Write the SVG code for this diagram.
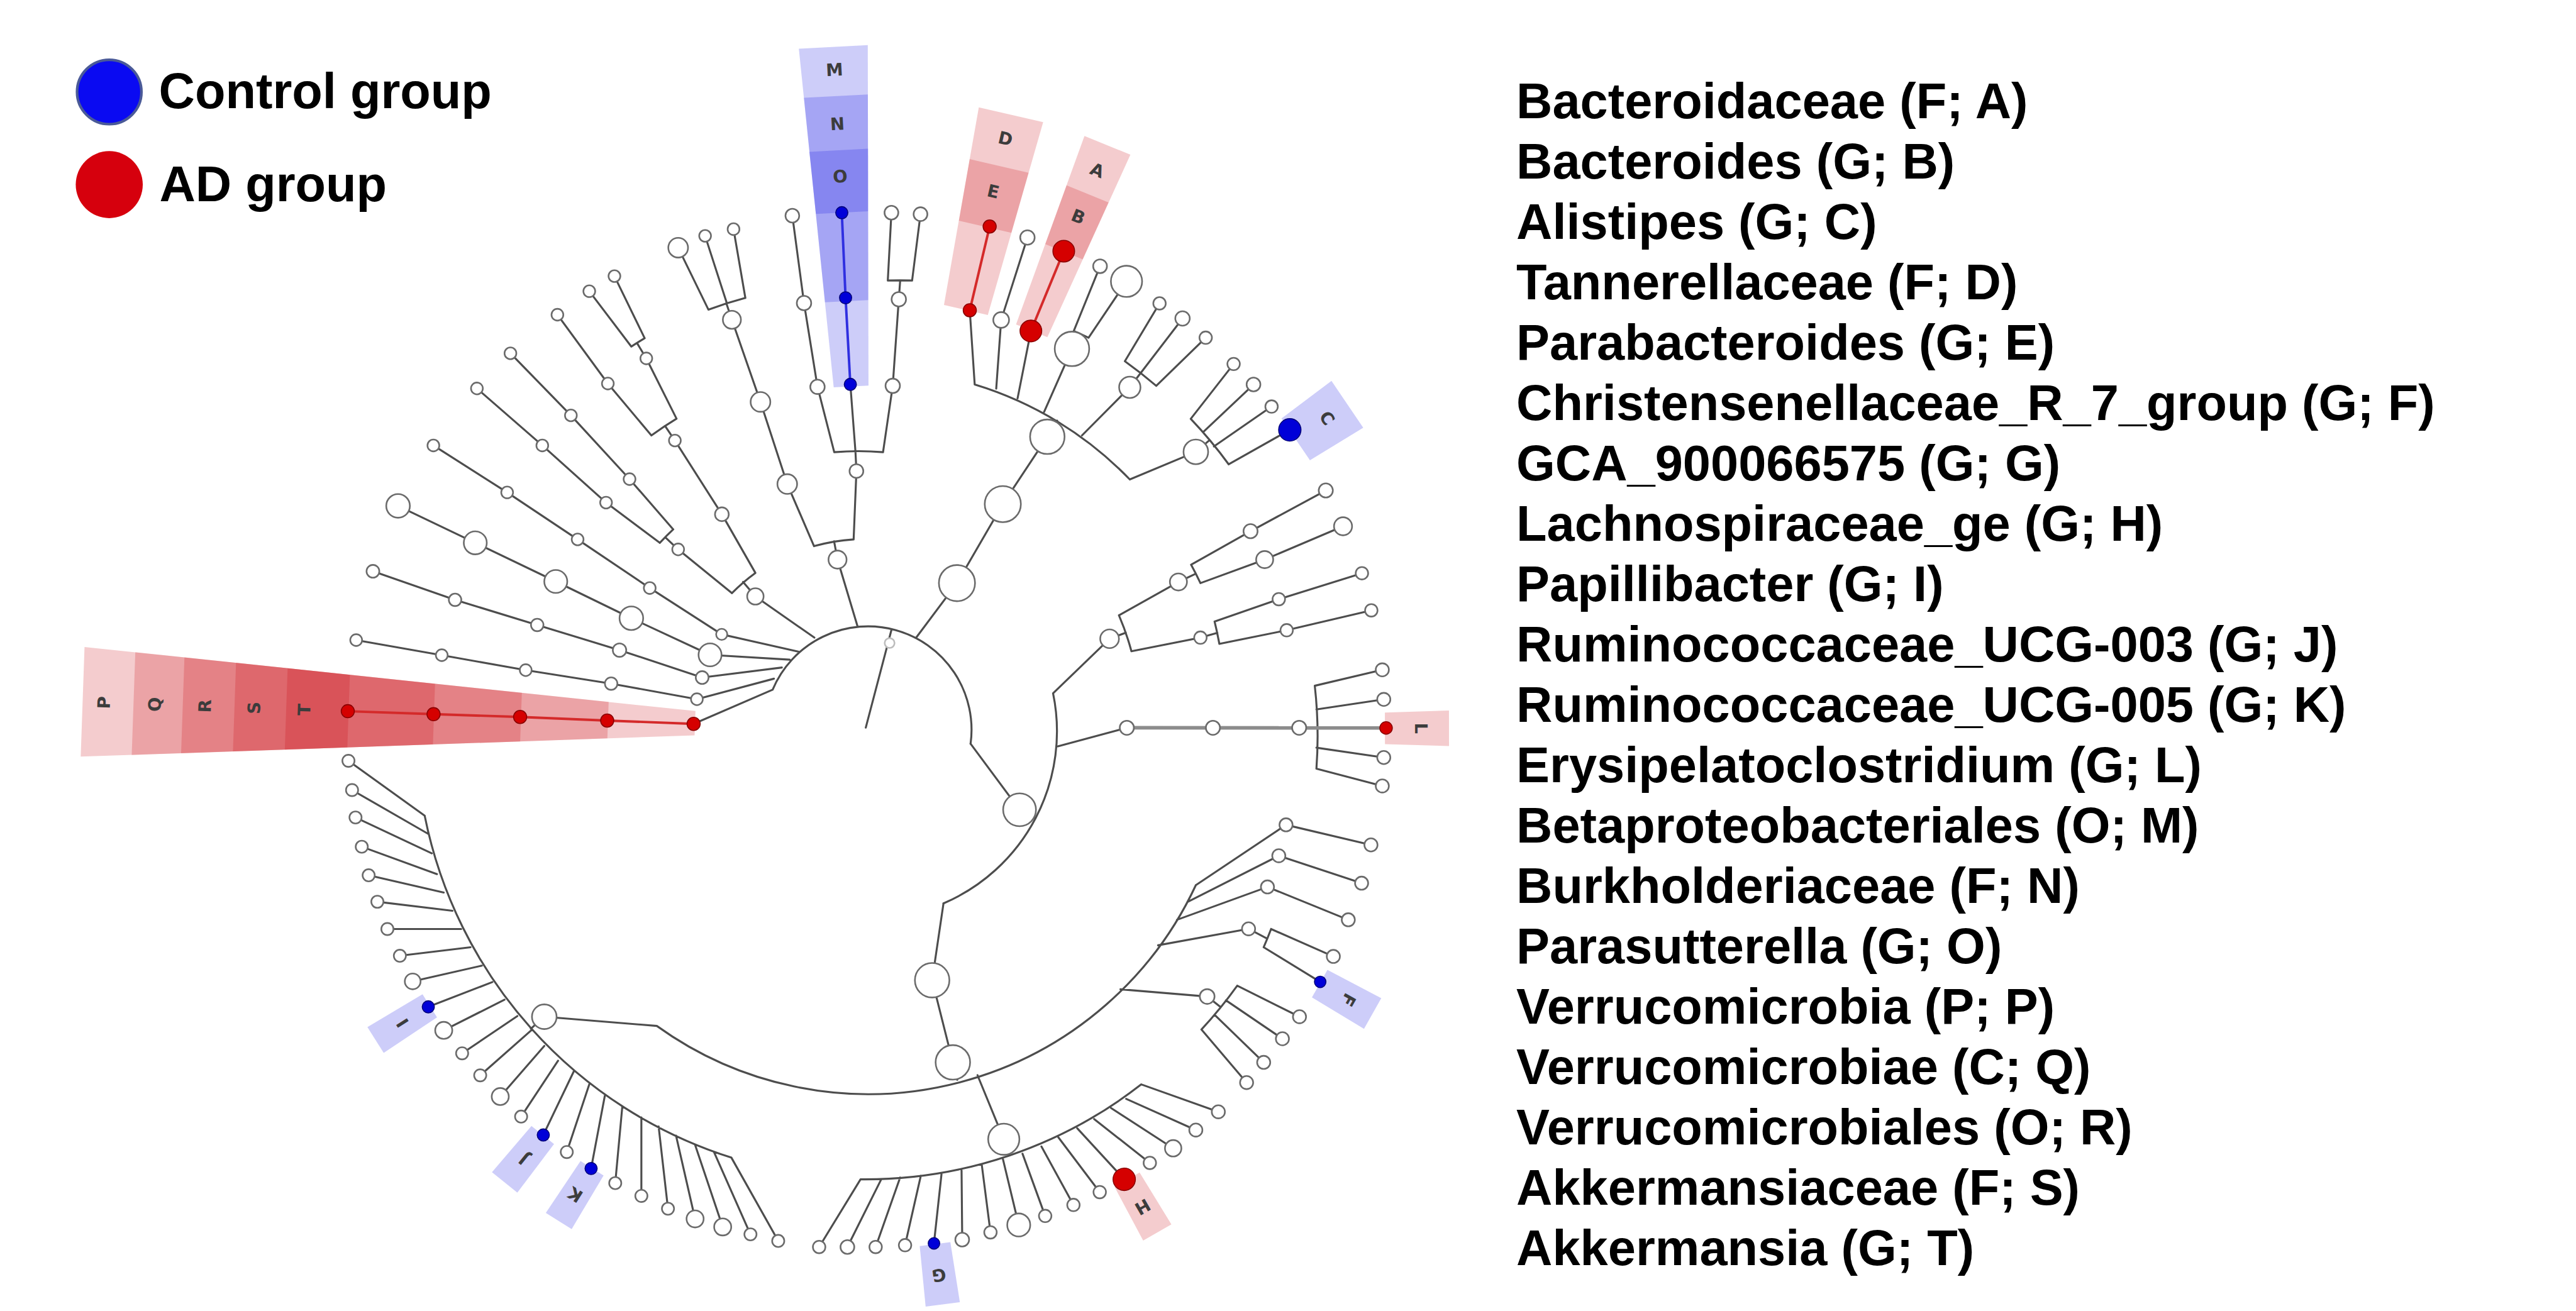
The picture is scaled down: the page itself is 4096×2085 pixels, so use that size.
<svg xmlns="http://www.w3.org/2000/svg" width="4096" height="2085" viewBox="0 0 4096 2085">
<defs>
<style>
.ln{fill:none;stroke:#4d4d4d;stroke-width:1.2;stroke-linejoin:round;stroke-linecap:round}
.lg{fill:none;stroke:#8c8c8c;stroke-width:2.2}
.lr{fill:none;stroke:#d42a2a;stroke-width:1.5}
.lbl{fill:none;stroke:#2f2fe0;stroke-width:1.5}
.nd{fill:#fff;stroke:#6b6b6b;stroke-width:1}
.rd{fill:#d50000;stroke:#8a0000;stroke-width:.6}
.bd{fill:#0000d8;stroke:#00007a;stroke-width:.6}
.hb{fill:rgb(20,20,225);fill-opacity:.21}
.hr{fill:rgb(200,0,10);fill-opacity:.2}
.wl{font-family:'DejaVu Sans','Liberation Sans',sans-serif;font-size:10.5px;font-weight:bold;fill:#3c3c3c;text-anchor:middle;dominant-baseline:central}
.tx{font-family:'Liberation Sans',Arial,sans-serif;font-weight:bold;font-size:30.4px;fill:#000}
</style>
</defs>
<rect width="4096" height="2085" fill="#fff"/>
<g transform="scale(2.612245)">

<g id="legend">
<circle cx="66.5" cy="56" r="19.6" fill="#0a0af2" stroke="#4a5a98" stroke-width="1.6"/>
<text x="96.7" y="66" class="tx">Control group</text>
<circle cx="66.5" cy="112.4" r="20.4" fill="#d6000d"/>
<text x="97" y="122.5" class="tx">AD group</text>
</g>

<g id="key" class="tx">
<text x="923" y="71.8">Bacteroidaceae (F; A)</text>
<text x="923" y="108.55">Bacteroides (G; B)</text>
<text x="923" y="145.3">Alistipes (G; C)</text>
<text x="923" y="182.05">Tannerellaceae (F; D)</text>
<text x="923" y="218.8">Parabacteroides (G; E)</text>
<text x="923" y="255.55">Christensenellaceae_R_7_group (G; F)</text>
<text x="923" y="292.3">GCA_900066575 (G; G)</text>
<text x="923" y="329.05">Lachnospiraceae_ge (G; H)</text>
<text x="923" y="365.8">Papillibacter (G; I)</text>
<text x="923" y="402.55">Ruminococcaceae_UCG-003 (G; J)</text>
<text x="923" y="439.3">Ruminococcaceae_UCG-005 (G; K)</text>
<text x="923" y="476.05">Erysipelatoclostridium (G; L)</text>
<text x="923" y="512.8">Betaproteobacteriales (O; M)</text>
<text x="923" y="549.55">Burkholderiaceae (F; N)</text>
<text x="923" y="586.3">Parasutterella (G; O)</text>
<text x="923" y="623.05">Verrucomicrobia (P; P)</text>
<text x="923" y="659.8">Verrucomicrobiae (C; Q)</text>
<text x="923" y="696.55">Verrucomicrobiales (O; R)</text>
<text x="923" y="733.3">Akkermansiaceae (F; S)</text>
<text x="923" y="770.05">Akkermansia (G; T)</text>
</g>

<g id="highlights">
<g id="hl-PT" transform="translate(529 444) rotate(182)">
<polygon class="hr" points="106,-7.4 479,-33.4 479,33.4 106,7.4"/>
<polygon class="hr" points="159,-11.1 448,-31.3 448,31.3 159,11.1"/>
<polygon class="hr" points="212,-14.8 418,-29.2 418,29.2 212,14.8"/>
<polygon class="hr" points="265,-18.5 386.5,-27 386.5,27 265,18.5"/>
<polygon class="hr" points="317,-22.1 355,-24.8 355,24.8 317,22.1"/>
<text class="wl" transform="translate(466 0) rotate(90)">P</text>
<text class="wl" transform="translate(435 0) rotate(90)">Q</text>
<text class="wl" transform="translate(404.5 0) rotate(90)">R</text>
<text class="wl" transform="translate(374.5 0) rotate(90)">S</text>
<text class="wl" transform="translate(344 0) rotate(90)">T</text>
</g>
<g id="hl-MNO" transform="translate(529 444) rotate(267)">
<polygon class="hb" points="209,-10.6 416,-21 416,21 209,10.6"/>
<polygon class="hb" points="261,-13.2 386,-19.5 386,19.5 261,13.2"/>
<polygon class="hb" points="315,-15.9 353,-17.9 353,17.9 315,15.9"/>
<text class="wl" transform="translate(402 0) rotate(90)">M</text>
<text class="wl" transform="translate(369 0) rotate(90)">N</text>
<text class="wl" transform="translate(337 0) rotate(90)">O</text>
</g>
<g id="hl-DE" transform="translate(529 444) rotate(-77)">
<polygon class="hr" points="262,-13.7 384,-20.1 384,20.1 262,13.7"/>
<polygon class="hr" points="314,-16.4 352,-18.4 352,18.4 314,16.4"/>
<text class="wl" transform="translate(369 0) rotate(90)">D</text>
<text class="wl" transform="translate(336 0) rotate(90)">E</text>
</g>
<g id="hl-AB" transform="translate(529 444) rotate(-67.8)">
<polygon class="hr" points="262,-10.3 384,-15.1 384,15.1 262,10.3"/>
<polygon class="hr" points="314,-12.3 352,-13.8 352,13.8 314,12.3"/>
<text class="wl" transform="translate(367.5 0) rotate(90)">A</text>
<text class="wl" transform="translate(337 0) rotate(90)">B</text>
</g>
<g id="hl-C" transform="translate(529 444) rotate(-34.2)">
<polygon class="hb" points="314,-15.4 352,-17.2 352,17.2 314,15.4"/>
<text class="wl" transform="translate(337 0) rotate(90)">C</text>
</g>
<g id="hl-L" transform="translate(529 444) rotate(-0.1)">
<polygon class="hr" points="314,-9.6 353,-10.8 353,10.8 314,9.6"/>
<text class="wl" transform="translate(336 0) rotate(90)">L</text>
</g>
<g id="hl-F" transform="translate(529 444) rotate(29.45)">
<polygon class="hb" points="315,-9.6 352,-10.7 352,10.7 315,9.6"/>
<text class="wl" transform="translate(335 0) rotate(90)">F</text>
</g>
<g id="hl-H" transform="translate(529 444) rotate(60.2)">
<polygon class="hr" points="316,-8.8 353,-9.9 353,9.9 316,8.8"/>
<text class="wl" transform="translate(335 0) rotate(90)">H</text>
</g>
<g id="hl-G" transform="translate(529 444) rotate(82.7)">
<polygon class="hb" points="316,-9.4 353,-10.5 353,10.5 316,9.4"/>
<text class="wl" transform="translate(335 0) rotate(90)">G</text>
</g>
<g id="hl-K" transform="translate(529 444) rotate(122.25)">
<polygon class="hb" points="316,-8.3 354,-9.3 354,9.3 316,8.3"/>
<text class="wl" transform="translate(335 0) rotate(90)">K</text>
</g>
<g id="hl-J" transform="translate(529 444) rotate(128.8)">
<polygon class="hb" points="317,-8.8 354,-9.9 354,9.9 317,8.8"/>
<text class="wl" transform="translate(335.5 0) rotate(90)">J</text>
</g>
<g id="hl-I" transform="translate(529 444) rotate(147.8)">
<polygon class="hb" points="316,-8.3 355,-9.3 355,9.3 316,8.3"/>
<text class="wl" transform="translate(335.5 0) rotate(90)">I</text>
</g>
</g>

<g id="connectors">
<path class="ln" d="M527,443 L542.7,383.2 M470.3,419.9 A63,63 0 0 1 590.8,452.8 M470.3,419.9 L422.2,440.7
M471.1,413.2 L424.2,425.7 L372,416.2 L320,408 L268.9,398.9 L216.8,389.7
M475.9,406.4 L427.4,412.5 L377.1,395.8 L327,380.5 L277,365.2 L227,347.8
M480.7,401.6 L432.2,398.7 L384.3,376.4 L338.3,354 L289.3,330.5 L242.3,308
M486.2,396.8 L439.3,386.2 L395.5,358 L351.6,328.4 L308.7,299.8 L263.8,271.2
M495.7,388.2 L459.8,363.1 L452.3,354.3 M445.5,361.1 A118,118 0 0 1 459.8,348.8
M445.5,361.1 L412.8,334.5 L404.9,327.1 M401.6,330.5 A170.5,170.5 0 0 1 409.8,322.3
M401.6,330.5 L368.9,306 L330.1,271.2 L290.3,236.5
M409.8,322.3 L383.2,291.7 L347.5,252.9 L310.7,215.1
M459.8,348.8 L439.4,313.1 L410.8,268.2 L404.8,259.3 M396.5,265.1 A222.5,222.5 0 0 1 411.8,254.9
M396.5,265.1 L370,233.5 L339.3,191.6
M411.8,254.9 L393.4,218.2 L387.7,208.8 M384.3,211 A274.4,274.4 0 0 1 392.4,205.9
M384.3,211 L358.7,177.3 M392.4,205.9 L374,168.1"/>
<path class="ln" d="M522,381.4 L509.8,340.7 L507.7,329.5 M495.5,332.5 A116.5,116.5 0 0 1 519.6,328.4
M495.5,332.5 L479.2,294.7 L462.9,244.7 L445.5,194.7 L442.1,184.6 M431.2,188.5 A273.6,273.6 0 0 1 453.7,181.4
M431.2,188.5 L412.8,150.8 M442.4,184.5 L429.2,143.6 M453.7,181.4 L446.5,139.5
M519.6,328.4 L521.3,286.8 L520.7,274.7 M507.8,275.3 A169.5,169.5 0 0 1 537.5,275.3
M507.8,275.3 L497.6,235.5 L489.4,184.5 L482.3,131.3
M520.7,274.7 L517.6,234
M537.5,275.3 L543.4,234.9 L547.1,182.2 L547.9,171.2 M540.4,170.8 A273.4,273.4 0 0 1 555.2,170.8
M540.4,170.8 L542.6,129.5 M555.2,170.8 L560.3,130.4"/>
<path class="ln" d="M557.9,387.9 L582.5,355 L610.4,306.9 L637.5,265.9 L643.5,256.1 M593.3,234.1 A220,220 0 0 1 687.7,291.9
M593.3,234.1 L590.3,188.9 M606.4,236.6 L609.4,194.8 L625.4,144.6 M619.4,242.5 L627.5,201.5
M635.5,250.9 L652.5,212.4 L657.3,203.5 M653.6,201.5 A272.6,272.6 0 0 1 662.6,205.6
M653.6,201.5 L669.6,162.1 M662.6,205.6 L685.7,171.3
M658.6,265.1 L687.7,235.8 L694.3,227.1 M684.7,219.9 A272.7,272.7 0 0 1 703.8,234.9
M684.7,219.9 L705.8,184.7 M694.7,226.6 L719.8,193.9 M703.8,234.9 L733.9,205.6
M687.7,291.9 L727.9,275.1 L736.3,267.9 M724.8,255 A272,272 0 0 1 747.9,282.7
M724.8,255 L750.9,221.6 M732.9,262.6 L763,234.1 M738.9,271.8 L774,247.5 M747.9,282.7 L785.1,261.7"/>
<path class="ln" d="M590.8,452.8 L620.6,493 L629.5,497.8 M641,422.1 A114,114 0 0 1 574.3,550
M641,422.1 L675.4,388.9 L685.3,385.2 M681.1,374.6 A167,167 0 0 1 688.7,396.5
M681.1,374.6 L717.3,354.3 L727.9,349.3 M725,343.8 A220.3,220.3 0 0 1 730.7,355
M725,343.8 L761.2,323.4 L807,298.6 M730.7,355 L769.8,340.7 L817.5,320.4
M688.7,396.5 L730.7,388.2 L741,385.3 M739.3,378.4 A220,220 0 0 1 742.2,392
M739.3,378.4 L778.4,364.8 L829,349 M742.2,392 L783.2,383.7 L834.7,371.6
M643.9,454.4 L685.9,443.1
M800.3,417.5 A273,273 0 0 1 801.3,468
M800.3,417.5 L841.4,407.8 M801.3,431.9 L842.3,425.8 M801.3,455.2 L842.3,461.2 M801.3,468 L841.4,478.5"/>
<path class="lg" d="M685.9,443.1 L843.7,443.2"/>
<path class="ln" d="M574.3,550 L567.4,596.8 L580,646.8 L582.7,657.4 M727.9,538.9 A220,220 0 0 1 399.8,624.6
M727.9,538.9 L782.8,502.2 L834.5,514.4 M723.3,548.9 L778.4,521 L828.8,537.7 M716.4,560 L771.5,540 L820.7,560
M704.9,575.5 L760,565.5 L771,571.3 M773.7,565.6 A273.5,273.5 0 0 1 769.2,576.7
M773.7,565.6 L811.6,582.3 M769.2,576.7 L803.6,597.8
M682,602.3 L734.8,606.7 L742.8,613 M753.1,600.1 A272.5,272.5 0 0 1 731.3,626.8
M753.1,600.1 L791,619 M746.2,609 L780.6,632.4 M739.4,617.9 L769.2,646.8 M731.3,626.8 L758.8,659.1
M595,654.6 L611,693.6 L614.2,703.4 M694.7,660.2 A274,274 0 0 1 523.8,718
M523.8,718 L498.6,759.2 M536.4,718 L515.8,759.2 M547.9,716.9 L533,759.2 M560.5,715.8 L550.9,758.1
M573.1,714.7 L568.5,757 M585.3,712.5 L585.7,754.7 M597.6,709.1 L602.9,750.3 M610.5,705.8 L620.1,745.8
M622.4,702.4 L636.2,740.3 M633.9,698 L653.4,733.6 M644.2,692.4 L669.4,725.8 M655.7,686.9 L684.3,718
M666,681.3 L699.9,708 M676.3,674.6 L714.1,699.1 M685.5,669 L727.9,688 M694.7,660.2 L741.6,676.9
M399.8,624.6 L331.3,619 L323.1,626.3 M445.2,704.8 A275,275 0 0 1 258.5,496.6
M258.5,496.6 L212.1,463.2 M260.7,507.7 L214.3,481 M262.8,519.5 L216.4,497.7 M266,532.2 L220.2,515.5
M270.1,543.4 L224.4,532.9 M275.4,554.5 L229.7,549 M280.7,565.6 L235.8,565.6 M286.4,576.7 L243.4,581.9
M293.3,587.9 L251.2,597.5 M299.7,597.9 L260.7,613 M307.1,608.6 L270.1,627.3 M314.9,618.6 L281.3,641.3
M323.9,626.8 L292.3,654.7 M331.3,636.8 L304.5,667.6 M339.7,645.8 L317.2,679.8 M349.2,652.4 L330.7,691
M358.7,660.2 L345,701.4 M368.2,666.9 L359.8,711.4 M378.8,673.6 L374.5,720.3 M390.4,680.3 L390.4,728.1
M400.9,685.8 L406.6,735.9 M411.5,691.4 L423.1,742.1 M423.1,697 L439.9,747 M434.6,701.4 L456.8,751.5
M445.2,704.8 L473.7,755.5"/>
<path class="lr" d="M422.2,440.7 L369.6,438.7 L316.6,436.5 L263.9,434.8 L211.7,433 M590.3,188.9 L602.4,137.9 M627.5,201.5 L647.5,152.9"/>
<path class="lbl" d="M517.6,234 L514.7,181.3 L512.4,129.5"/>
</g>

<g id="nodes">
<g id="n-root"><circle cx="541.5" cy="391.5" r="3" fill="#fff" stroke="#bdbdbd" stroke-width="1"/></g>
<g id="n-P"><circle class="rd" cx="422.2" cy="440.7" r="4"/></g>
<g id="n-Q"><circle class="rd" cx="369.6" cy="438.7" r="4"/></g>
<g id="n-R"><circle class="rd" cx="316.6" cy="436.5" r="4"/></g>
<g id="n-S"><circle class="rd" cx="263.9" cy="434.8" r="4"/></g>
<g id="n-T"><circle class="rd" cx="211.7" cy="433" r="4"/></g>
<g id="n-a1"><circle class="nd" cx="424.2" cy="425.7" r="3.6"/></g>
<g id="n-a2"><circle class="nd" cx="372" cy="416.2" r="3.8"/></g>
<g id="n-a3"><circle class="nd" cx="320" cy="408" r="3.6"/></g>
<g id="n-a4"><circle class="nd" cx="268.9" cy="398.9" r="3.6"/></g>
<g id="n-a5"><circle class="nd" cx="216.8" cy="389.7" r="3.6"/></g>
<g id="n-b1"><circle class="nd" cx="427.4" cy="412.5" r="3.9"/></g>
<g id="n-b2"><circle class="nd" cx="377.1" cy="395.8" r="4.1"/></g>
<g id="n-b3"><circle class="nd" cx="327" cy="380.5" r="3.8"/></g>
<g id="n-b4"><circle class="nd" cx="277" cy="365.2" r="3.8"/></g>
<g id="n-b5"><circle class="nd" cx="227" cy="347.8" r="3.9"/></g>
<g id="n-c1"><circle class="nd" cx="432.2" cy="398.7" r="7"/></g>
<g id="n-c2"><circle class="nd" cx="384.3" cy="376.4" r="7.2"/></g>
<g id="n-c3"><circle class="nd" cx="338.3" cy="354" r="7"/></g>
<g id="n-c4"><circle class="nd" cx="289.3" cy="330.5" r="7"/></g>
<g id="n-c5"><circle class="nd" cx="242.3" cy="308" r="7.2"/></g>
<g id="n-d1"><circle class="nd" cx="439.3" cy="386.2" r="3.4"/></g>
<g id="n-d2"><circle class="nd" cx="395.5" cy="358" r="3.6"/></g>
<g id="n-d3"><circle class="nd" cx="351.6" cy="328.4" r="3.6"/></g>
<g id="n-d4"><circle class="nd" cx="308.7" cy="299.8" r="3.6"/></g>
<g id="n-d5"><circle class="nd" cx="263.8" cy="271.2" r="3.6"/></g>
<g id="n-e1"><circle class="nd" cx="459.8" cy="363.1" r="5"/></g>
<g id="n-e2"><circle class="nd" cx="412.8" cy="334.5" r="3.6"/></g>
<g id="n-e3"><circle class="nd" cx="368.9" cy="306" r="3.6"/></g>
<g id="n-e4"><circle class="nd" cx="330.1" cy="271.2" r="3.6"/></g>
<g id="n-e5"><circle class="nd" cx="290.3" cy="236.5" r="3.6"/></g>
<g id="n-e6"><circle class="nd" cx="383.2" cy="291.7" r="3.6"/></g>
<g id="n-e7"><circle class="nd" cx="347.5" cy="252.9" r="3.6"/></g>
<g id="n-e8"><circle class="nd" cx="310.7" cy="215.1" r="3.6"/></g>
<g id="n-e9"><circle class="nd" cx="439.4" cy="313.1" r="4.2"/></g>
<g id="n-e10"><circle class="nd" cx="410.8" cy="268.2" r="3.6"/></g>
<g id="n-e11"><circle class="nd" cx="370" cy="233.5" r="3.6"/></g>
<g id="n-e12"><circle class="nd" cx="339.3" cy="191.6" r="3.6"/></g>
<g id="n-e13"><circle class="nd" cx="393.4" cy="218.2" r="3.6"/></g>
<g id="n-e14"><circle class="nd" cx="358.7" cy="177.3" r="3.6"/></g>
<g id="n-e15"><circle class="nd" cx="374" cy="168.1" r="3.6"/></g>
<g id="n-f1"><circle class="nd" cx="509.8" cy="340.7" r="5.5"/></g>
<g id="n-f2"><circle class="nd" cx="479.2" cy="294.7" r="6"/></g>
<g id="n-f3"><circle class="nd" cx="462.9" cy="244.7" r="6"/></g>
<g id="n-f4"><circle class="nd" cx="445.5" cy="194.7" r="5.5"/></g>
<g id="n-f5"><circle class="nd" cx="412.8" cy="150.8" r="6"/></g>
<g id="n-f6"><circle class="nd" cx="429.2" cy="143.6" r="3.6"/></g>
<g id="n-f7"><circle class="nd" cx="446.5" cy="139.5" r="3.6"/></g>
<g id="n-f8"><circle class="nd" cx="521.3" cy="286.8" r="4.2"/></g>
<g id="n-f9"><circle class="nd" cx="497.6" cy="235.5" r="4.4"/></g>
<g id="n-f10"><circle class="nd" cx="489.4" cy="184.5" r="4.4"/></g>
<g id="n-f11"><circle class="nd" cx="482.3" cy="131.3" r="4.2"/></g>
<g id="n-M"><circle class="bd" cx="517.6" cy="234" r="3.7"/></g>
<g id="n-N"><circle class="bd" cx="514.7" cy="181.3" r="3.7"/></g>
<g id="n-O"><circle class="bd" cx="512.4" cy="129.5" r="3.7"/></g>
<g id="n-f12"><circle class="nd" cx="543.4" cy="234.9" r="4.4"/></g>
<g id="n-f13"><circle class="nd" cx="547.1" cy="182.2" r="4.4"/></g>
<g id="n-f14"><circle class="nd" cx="542.6" cy="129.5" r="4.2"/></g>
<g id="n-f15"><circle class="nd" cx="560.3" cy="130.4" r="4.2"/></g>
<g id="n-g1"><circle class="nd" cx="582.5" cy="355" r="11"/></g>
<g id="n-g2"><circle class="nd" cx="610.4" cy="306.9" r="11"/></g>
<g id="n-g3"><circle class="nd" cx="637.5" cy="265.9" r="10.5"/></g>
<g id="n-D"><circle class="rd" cx="590.3" cy="188.9" r="4"/></g>
<g id="n-E"><circle class="rd" cx="602.4" cy="137.9" r="4"/></g>
<g id="n-g4"><circle class="nd" cx="609.4" cy="194.8" r="4.8"/></g>
<g id="n-g5"><circle class="nd" cx="625.4" cy="144.6" r="4.4"/></g>
<g id="n-A"><circle class="rd" cx="627.5" cy="201.5" r="6.6"/></g>
<g id="n-B"><circle class="rd" cx="647.5" cy="152.9" r="6.6"/></g>
<g id="n-g6"><circle class="nd" cx="652.5" cy="212.4" r="10.5"/></g>
<g id="n-g7"><circle class="nd" cx="669.6" cy="162.1" r="4.2"/></g>
<g id="n-g8"><circle class="nd" cx="685.7" cy="171.3" r="9.5"/></g>
<g id="n-g9"><circle class="nd" cx="687.7" cy="235.8" r="6.5"/></g>
<g id="n-g10"><circle class="nd" cx="705.8" cy="184.7" r="3.8"/></g>
<g id="n-g11"><circle class="nd" cx="719.8" cy="193.9" r="4.4"/></g>
<g id="n-g12"><circle class="nd" cx="733.9" cy="205.6" r="3.8"/></g>
<g id="n-g13"><circle class="nd" cx="727.9" cy="275.1" r="7.5"/></g>
<g id="n-g14"><circle class="nd" cx="750.9" cy="221.6" r="3.8"/></g>
<g id="n-g15"><circle class="nd" cx="763" cy="234.1" r="4.2"/></g>
<g id="n-g16"><circle class="nd" cx="774" cy="247.5" r="3.8"/></g>
<g id="n-C"><circle class="bd" cx="785.1" cy="261.7" r="6.8"/></g>
<g id="n-h1"><circle class="nd" cx="620.6" cy="493" r="10"/></g>
<g id="n-h2"><circle class="nd" cx="675.4" cy="388.9" r="5.7"/></g>
<g id="n-h3"><circle class="nd" cx="717.3" cy="354.3" r="5.2"/></g>
<g id="n-h4"><circle class="nd" cx="761.2" cy="323.4" r="4.3"/></g>
<g id="n-h5"><circle class="nd" cx="807" cy="298.6" r="4.3"/></g>
<g id="n-h6"><circle class="nd" cx="769.8" cy="340.7" r="5.2"/></g>
<g id="n-h7"><circle class="nd" cx="817.5" cy="320.4" r="5.5"/></g>
<g id="n-h8"><circle class="nd" cx="730.7" cy="388.2" r="3.8"/></g>
<g id="n-h9"><circle class="nd" cx="778.4" cy="364.8" r="3.8"/></g>
<g id="n-h10"><circle class="nd" cx="829" cy="349" r="3.8"/></g>
<g id="n-h11"><circle class="nd" cx="783.2" cy="383.7" r="3.8"/></g>
<g id="n-h12"><circle class="nd" cx="834.7" cy="371.6" r="3.8"/></g>
<g id="n-i1"><circle class="nd" cx="685.9" cy="443.1" r="4.3"/></g>
<g id="n-i2"><circle class="nd" cx="738.3" cy="443.1" r="4.3"/></g>
<g id="n-i3"><circle class="nd" cx="790.8" cy="443.1" r="4.3"/></g>
<g id="n-i4"><circle class="nd" cx="841.4" cy="407.8" r="4"/></g>
<g id="n-i5"><circle class="nd" cx="842.3" cy="425.8" r="4"/></g>
<g id="n-L"><circle class="rd" cx="843.7" cy="443.2" r="3.8"/></g>
<g id="n-i6"><circle class="nd" cx="842.3" cy="461.2" r="4"/></g>
<g id="n-i7"><circle class="nd" cx="841.4" cy="478.5" r="4"/></g>
<g id="n-j1"><circle class="nd" cx="567.4" cy="596.8" r="10.5"/></g>
<g id="n-j2"><circle class="nd" cx="580" cy="646.8" r="10.5"/></g>
<g id="n-j3"><circle class="nd" cx="611" cy="693.6" r="9.5"/></g>
<g id="n-j4"><circle class="nd" cx="331.3" cy="619" r="7.5"/></g>
<g id="n-j5"><circle class="nd" cx="734.8" cy="606.7" r="4.5"/></g>
<g id="n-j6"><circle class="nd" cx="760" cy="565.5" r="4"/></g>
<g id="n-j7"><circle class="nd" cx="771.5" cy="540" r="4"/></g>
<g id="n-j8"><circle class="nd" cx="778.4" cy="521" r="4"/></g>
<g id="n-j9"><circle class="nd" cx="782.8" cy="502.2" r="4"/></g>
<g id="n-k1"><circle class="nd" cx="834.5" cy="514.4" r="4"/></g>
<g id="n-k2"><circle class="nd" cx="828.8" cy="537.7" r="4"/></g>
<g id="n-k3"><circle class="nd" cx="820.7" cy="560" r="4"/></g>
<g id="n-k4"><circle class="nd" cx="811.6" cy="582.3" r="4"/></g>
<g id="n-F"><circle class="bd" cx="803.6" cy="597.8" r="3.5"/></g>
<g id="n-k5"><circle class="nd" cx="791" cy="619" r="4"/></g>
<g id="n-k6"><circle class="nd" cx="780.6" cy="632.4" r="4"/></g>
<g id="n-k7"><circle class="nd" cx="769.2" cy="646.8" r="4"/></g>
<g id="n-k8"><circle class="nd" cx="758.8" cy="659.1" r="4"/></g>
<g id="n-y1"><circle class="nd" cx="498.6" cy="759.2" r="3.8"/></g>
<g id="n-y2"><circle class="nd" cx="515.8" cy="759.2" r="4.2"/></g>
<g id="n-y3"><circle class="nd" cx="533" cy="759.2" r="3.8"/></g>
<g id="n-y4"><circle class="nd" cx="550.9" cy="758.1" r="3.8"/></g>
<g id="n-G"><circle class="bd" cx="568.5" cy="757" r="3.5"/></g>
<g id="n-y6"><circle class="nd" cx="585.7" cy="754.7" r="4.2"/></g>
<g id="n-y7"><circle class="nd" cx="602.9" cy="750.3" r="3.8"/></g>
<g id="n-y8"><circle class="nd" cx="620.1" cy="745.8" r="7"/></g>
<g id="n-y9"><circle class="nd" cx="636.2" cy="740.3" r="3.8"/></g>
<g id="n-y10"><circle class="nd" cx="653.4" cy="733.6" r="3.8"/></g>
<g id="n-y11"><circle class="nd" cx="669.4" cy="725.8" r="3.8"/></g>
<g id="n-H"><circle class="rd" cx="684.3" cy="718" r="6.8"/></g>
<g id="n-y13"><circle class="nd" cx="699.9" cy="708" r="3.8"/></g>
<g id="n-y14"><circle class="nd" cx="714.1" cy="699.1" r="5"/></g>
<g id="n-y15"><circle class="nd" cx="727.9" cy="688" r="4"/></g>
<g id="n-y16"><circle class="nd" cx="741.6" cy="676.9" r="4"/></g>
<g id="n-z1"><circle class="nd" cx="212.1" cy="463.2" r="3.7"/></g>
<g id="n-z2"><circle class="nd" cx="214.3" cy="481" r="3.7"/></g>
<g id="n-z3"><circle class="nd" cx="216.4" cy="497.7" r="3.7"/></g>
<g id="n-z4"><circle class="nd" cx="220.2" cy="515.5" r="3.7"/></g>
<g id="n-z5"><circle class="nd" cx="224.4" cy="532.9" r="3.7"/></g>
<g id="n-z6"><circle class="nd" cx="229.7" cy="549" r="3.7"/></g>
<g id="n-z7"><circle class="nd" cx="235.8" cy="565.6" r="3.7"/></g>
<g id="n-z8"><circle class="nd" cx="243.4" cy="581.9" r="3.7"/></g>
<g id="n-z9"><circle class="nd" cx="251.2" cy="597.5" r="4.8"/></g>
<g id="n-I"><circle class="bd" cx="260.7" cy="613" r="3.7"/></g>
<g id="n-z11"><circle class="nd" cx="270.1" cy="627.3" r="5.2"/></g>
<g id="n-z12"><circle class="nd" cx="281.3" cy="641.3" r="3.7"/></g>
<g id="n-z13"><circle class="nd" cx="292.3" cy="654.7" r="3.7"/></g>
<g id="n-z14"><circle class="nd" cx="304.5" cy="667.6" r="5.2"/></g>
<g id="n-z15"><circle class="nd" cx="317.2" cy="679.8" r="3.7"/></g>
<g id="n-J"><circle class="bd" cx="330.7" cy="691" r="3.7"/></g>
<g id="n-z17"><circle class="nd" cx="345" cy="701.4" r="3.7"/></g>
<g id="n-K"><circle class="bd" cx="359.8" cy="711.4" r="3.7"/></g>
<g id="n-z19"><circle class="nd" cx="374.5" cy="720.3" r="3.7"/></g>
<g id="n-z20"><circle class="nd" cx="390.4" cy="728.1" r="3.7"/></g>
<g id="n-z21"><circle class="nd" cx="406.6" cy="735.9" r="3.7"/></g>
<g id="n-z22"><circle class="nd" cx="423.1" cy="742.1" r="5.2"/></g>
<g id="n-z23"><circle class="nd" cx="439.9" cy="747" r="5.2"/></g>
<g id="n-z24"><circle class="nd" cx="456.8" cy="751.5" r="3.7"/></g>
<g id="n-z25"><circle class="nd" cx="473.7" cy="755.5" r="3.7"/></g>
</g>

</g>
</svg>
